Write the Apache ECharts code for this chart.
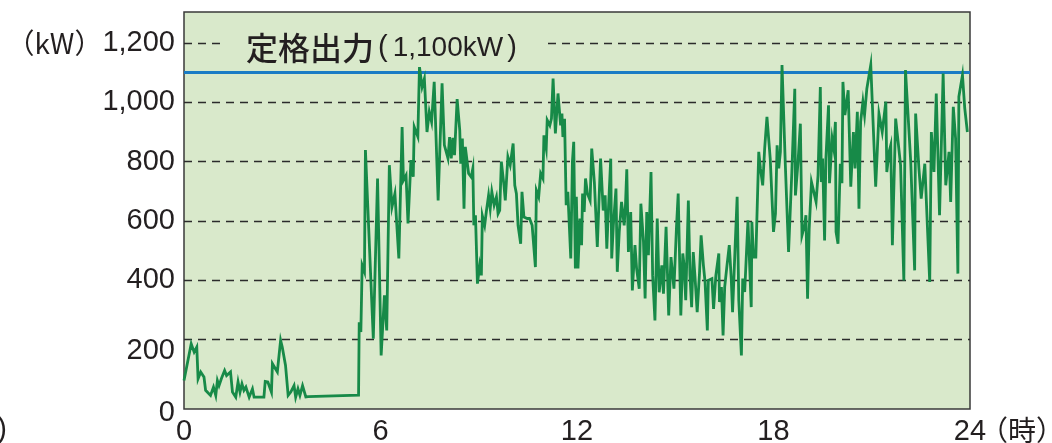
<!DOCTYPE html>
<html>
<head>
<meta charset="utf-8">
<script src="https://cdn.jsdelivr.net/npm/echarts@6/dist/echarts.min.js"></script>
<style>
html, body { margin: 0; padding: 0; background: #fff; }
#chartId { width: 1052px; height: 443px; }
</style>
</head>
<body>
<div id="chartId"></div>
<script>
// [時, kW]
const outputKW = [
    [0.00, 61], [0.22, 185], [0.31, 157], [0.39, 174], [0.43, 67], [0.51, 90], [0.61, 73], [0.66, 28],
    [0.81, 11], [0.90, 39], [0.97, 11], [1.02, 61], [1.07, 44], [1.14, 67], [1.24, 95], [1.30, 78],
    [1.42, 90], [1.48, 22], [1.58, 5], [1.65, 56], [1.71, 22], [1.77, 50], [1.83, 28], [1.89, 39],
    [1.95, 33], [1.99, 5], [2.09, 33], [2.14, 5], [2.44, 5], [2.48, 58], [2.56, 56], [2.67, 22],
    [2.70, 118], [2.85, 90], [2.95, 197], [3.00, 174], [3.05, 180], [3.10, 112], [3.18, 11], [3.26, 22],
    [3.36, 44], [3.41, 5], [3.48, 33], [3.54, 11], [3.62, 44], [3.72, 6], [3.79, 7],
    [5.33, 12], [5.35, 258], [5.40, 225], [5.44, 450], [5.51, 428], [5.54, 839], [5.78, 202], [5.91, 743],
    [6.02, 146], [6.12, 349], [6.19, 230], [6.27, 788], [6.35, 647], [6.44, 692], [6.56, 473], [6.66, 917],
    [6.70, 737], [6.78, 754], [6.84, 591], [6.93, 805], [7.00, 749], [7.03, 917], [7.14, 884], [7.19, 1120],
    [7.27, 1052], [7.34, 1080], [7.42, 900], [7.49, 968], [7.56, 934], [7.64, 1069], [7.76, 669], [7.88, 1064],
    [7.95, 856],
    [8.06, 811], [8.11, 883], [8.16, 811], [8.21, 880], [8.26, 822], [8.34, 1011], [8.42, 906], [8.45, 793],
    [8.50, 878], [8.55, 641], [8.59, 850], [8.69, 760], [8.77, 748], [8.82, 777], [8.85, 585], [8.90, 619],
    [8.96, 388], [9.03, 450], [9.08, 416], [9.11, 617], [9.18, 585], [9.23, 630], [9.30, 686], [9.35, 641],
    [9.40, 698], [9.47, 653], [9.54, 681], [9.59, 624], [9.64, 635], [9.69, 800], [9.77, 720], [9.81, 669],
    [9.89, 816], [9.96, 788], [10.05, 861], [10.10, 720], [10.15, 692], [10.20, 585], [10.28, 523], [10.32, 698],
    [10.38, 613], [10.48, 608], [10.55, 608], [10.63, 585], [10.73, 444], [10.76, 703], [10.83, 681], [10.89, 760],
    [10.96, 743], [10.99, 889], [11.06, 844], [11.09, 940], [11.17, 922], [11.22, 945], [11.27, 1080], [11.34, 895],
    [11.42, 1030], [11.50, 922], [11.54, 962], [11.57, 883], [11.62, 945], [11.67, 653], [11.72, 698], [11.81, 473],
    [11.86, 800], [11.90, 867], [11.95, 439], [11.98, 681], [12.03, 439],
    [12.09, 608], [12.14, 518], [12.17, 692], [12.22, 630], [12.26, 743], [12.32, 692], [12.40, 669], [12.45, 844],
    [12.53, 731], [12.62, 512], [12.72, 810], [12.80, 635], [12.86, 686], [12.91, 506], [12.96, 641], [13.03, 810],
    [13.06, 473], [13.11, 585], [13.19, 709], [13.23, 428], [13.29, 563], [13.36, 664], [13.44, 585], [13.48, 653],
    [13.52, 774], [13.57, 495], [13.64, 630], [13.69, 365], [13.77, 518], [13.82, 439], [13.90, 371], [13.95, 658],
    [14.03, 529], [14.08, 338], [14.13, 630], [14.18, 484], [14.26, 765], [14.31, 416], [14.38, 264], [14.45, 608],
    [14.51, 359], [14.59, 450], [14.64, 354], [14.72, 580], [14.80, 281], [14.87, 478], [14.96, 371], [15.04, 585],
    [15.09, 692], [15.17, 281], [15.23, 490], [15.27, 450], [15.32, 332], [15.40, 669], [15.45, 416], [15.50, 309],
    [15.55, 495], [15.60, 416], [15.67, 292], [15.74, 422], [15.79, 551], [15.86, 450], [15.91, 394], [15.98, 230],
    [16.01, 399],
    [16.12, 405], [16.17, 303], [16.24, 416], [16.33, 490], [16.35, 326], [16.41, 377], [16.46, 213], [16.51, 377],
    [16.58, 450], [16.65, 518], [16.71, 405], [16.75, 292], [16.83, 518], [16.89, 681], [16.94, 332], [17.02, 146],
    [17.06, 405], [17.12, 360], [17.22, 602], [17.32, 309], [17.34, 597], [17.39, 478], [17.46, 478], [17.55, 833],
    [17.60, 777], [17.67, 720], [17.73, 844], [17.80, 951], [17.90, 810], [18.00, 563], [18.06, 624], [18.11, 855],
    [18.16, 777], [18.21, 833], [18.26, 1126], [18.36, 793], [18.46, 495], [18.56, 765], [18.65, 1046], [18.67, 686],
    [18.75, 800], [18.82, 928], [18.87, 551], [18.95, 585], [18.99, 619], [19.04, 337], [19.09, 574], [19.16, 731],
    [19.23, 698], [19.30, 664], [19.36, 754], [19.43, 1052], [19.46, 731], [19.50, 810], [19.56, 534], [19.60, 810],
    [19.68, 990], [19.71, 727], [19.79, 878], [19.84, 844], [19.89, 934], [19.91, 563], [19.97, 523], [20.04, 793],
    [20.09, 727], [20.12, 1069],
    [20.18, 957], [20.28, 1041], [20.36, 715], [20.44, 900], [20.49, 777], [20.56, 968], [20.61, 641], [20.66, 934],
    [20.73, 1002], [20.78, 957], [20.85, 1046], [20.97, 1126], [21.12, 715], [21.22, 962], [21.32, 900], [21.43, 1002],
    [21.46, 765], [21.53, 833], [21.58, 855], [21.63, 518], [21.73, 945], [21.88, 788], [21.98, 399], [22.03, 1109],
    [22.19, 800], [22.31, 433], [22.34, 962], [22.44, 777], [22.51, 675], [22.62, 793], [22.77, 394], [22.82, 900],
    [22.90, 765], [22.97, 1030], [23.07, 619], [23.18, 1097], [23.26, 720], [23.36, 833], [23.41, 664], [23.49, 985],
    [23.56, 878], [23.63, 422], [23.66, 1019], [23.77, 1092], [23.84, 980], [23.92, 900]
];

const yTicks = [0, 200, 400, 600, 800, 1000, 1200];   // 目盛
const gridValues = [200, 400, 600, 800, 1000, 1200];  // 破線
const ratedOutput = 1100;                              // 定格出力
const titleLabel = '定格出力';
const titleValue = '1,100kW';

const latin = '"Liberation Sans", Arial, sans-serif';
const cjk = '"Noto Sans CJK JP", sans-serif';

var chart = echarts.init(document.getElementById('chartId'));

var option = {
    animation: false,
    title: {
        text: '{c|' + titleLabel + '}{p1|(}{n|' + titleValue + '}{p2|)}',
        left: 220,
        top: 29,
        padding: [3, 28, 3, 26],
        backgroundColor: '#d9e9cb',
        textStyle: {
            fontWeight: 'normal',
            rich: {
                c: { fontFamily: cjk, fontSize: 32, fontWeight: 500, color: '#231f20' },
                p1: { fontFamily: latin, fontSize: 29, fontWeight: 'normal', color: '#231f20', padding: [0, 5, 0, 4] },
                n: { fontFamily: latin, fontSize: 28, fontWeight: 'normal', color: '#231f20' },
                p2: { fontFamily: latin, fontSize: 29, fontWeight: 'normal', color: '#231f20', padding: [0, 0, 0, 4] }
            }
        }
    },
    grid: {
        left: 184,
        right: 82,
        top: 12,
        bottom: 34,
        outerBoundsMode: 'none',
        show: true,
        backgroundColor: '#d9e9cb',
        borderColor: '#3a3a3a',
        borderWidth: 1.5
    },
    xAxis: {
        type: 'value',
        min: 0,
        max: 24,
        interval: 6,
        axisLine: { show: false },
        axisTick: { show: false },
        splitLine: { show: false },
        axisLabel: {
            margin: 8,
            fontFamily: latin,
            fontSize: 29,
            color: '#231f20'
        }
    },
    yAxis: {
        type: 'value',
        min: -35,
        max: 1305,
        axisLine: { show: false },
        axisTick: { show: false },
        splitLine: { show: false },
        axisLabel: {
            customValues: yTicks,
            margin: 9,
            fontFamily: latin,
            fontSize: 29,
            color: '#231f20',
            formatter: function (v) {
                let s = v.toLocaleString('en-US');
                if (v === 1200) return '{u|（kW）}' + s;
                if (v === 200) return '{l2|' + s + '}';
                if (v === 0) return '{l0|' + s + '}';
                return s;
            },
            rich: {
                u: { fontFamily: cjk, fontSize: 28, color: '#231f20' },
                l2: { fontFamily: latin, fontSize: 29, color: '#231f20', padding: [24, 0, 0, 0] },
                l0: { fontFamily: latin, fontSize: 29, color: '#231f20', padding: [28, 0, 0, 0] }
            }
        }
    },
    graphic: [
        {
            type: 'text', x: 980, y: 430,
            style: { text: '（時）', font: '28px ' + cjk, fill: '#231f20', verticalAlign: 'middle', align: 'left' }
        },
        {
            type: 'text', x: 7, y: 430,
            style: { text: ')', font: '29px ' + latin, fill: '#231f20', verticalAlign: 'middle', align: 'right' }
        }
    ],
    series: [
        {
            type: 'line',
            data: [],
            markLine: {
                z: 1,
                silent: true,
                symbol: ['none', 'none'],
                label: { show: false },
                lineStyle: { color: '#2b2b2b', width: 1.4, type: [8, 6] },
                data: gridValues.map(v => ({ yAxis: v }))
            }
        },
        {
            type: 'line',
            data: [],
            markLine: {
                z: 1,
                silent: true,
                symbol: ['none', 'none'],
                label: { show: false },
                lineStyle: { color: '#1a7cc5', width: 3, type: 'solid' },
                data: [{ yAxis: ratedOutput }]
            }
        },
        {
            name: 'kW',
            type: 'line',
            data: outputKW,
            showSymbol: false,
            lineStyle: { color: '#178a48', width: 2.8, join: 'miter' },
            itemStyle: { color: '#178a48' }
        }
    ]
};

chart.setOption(option);
</script>
</body>
</html>
